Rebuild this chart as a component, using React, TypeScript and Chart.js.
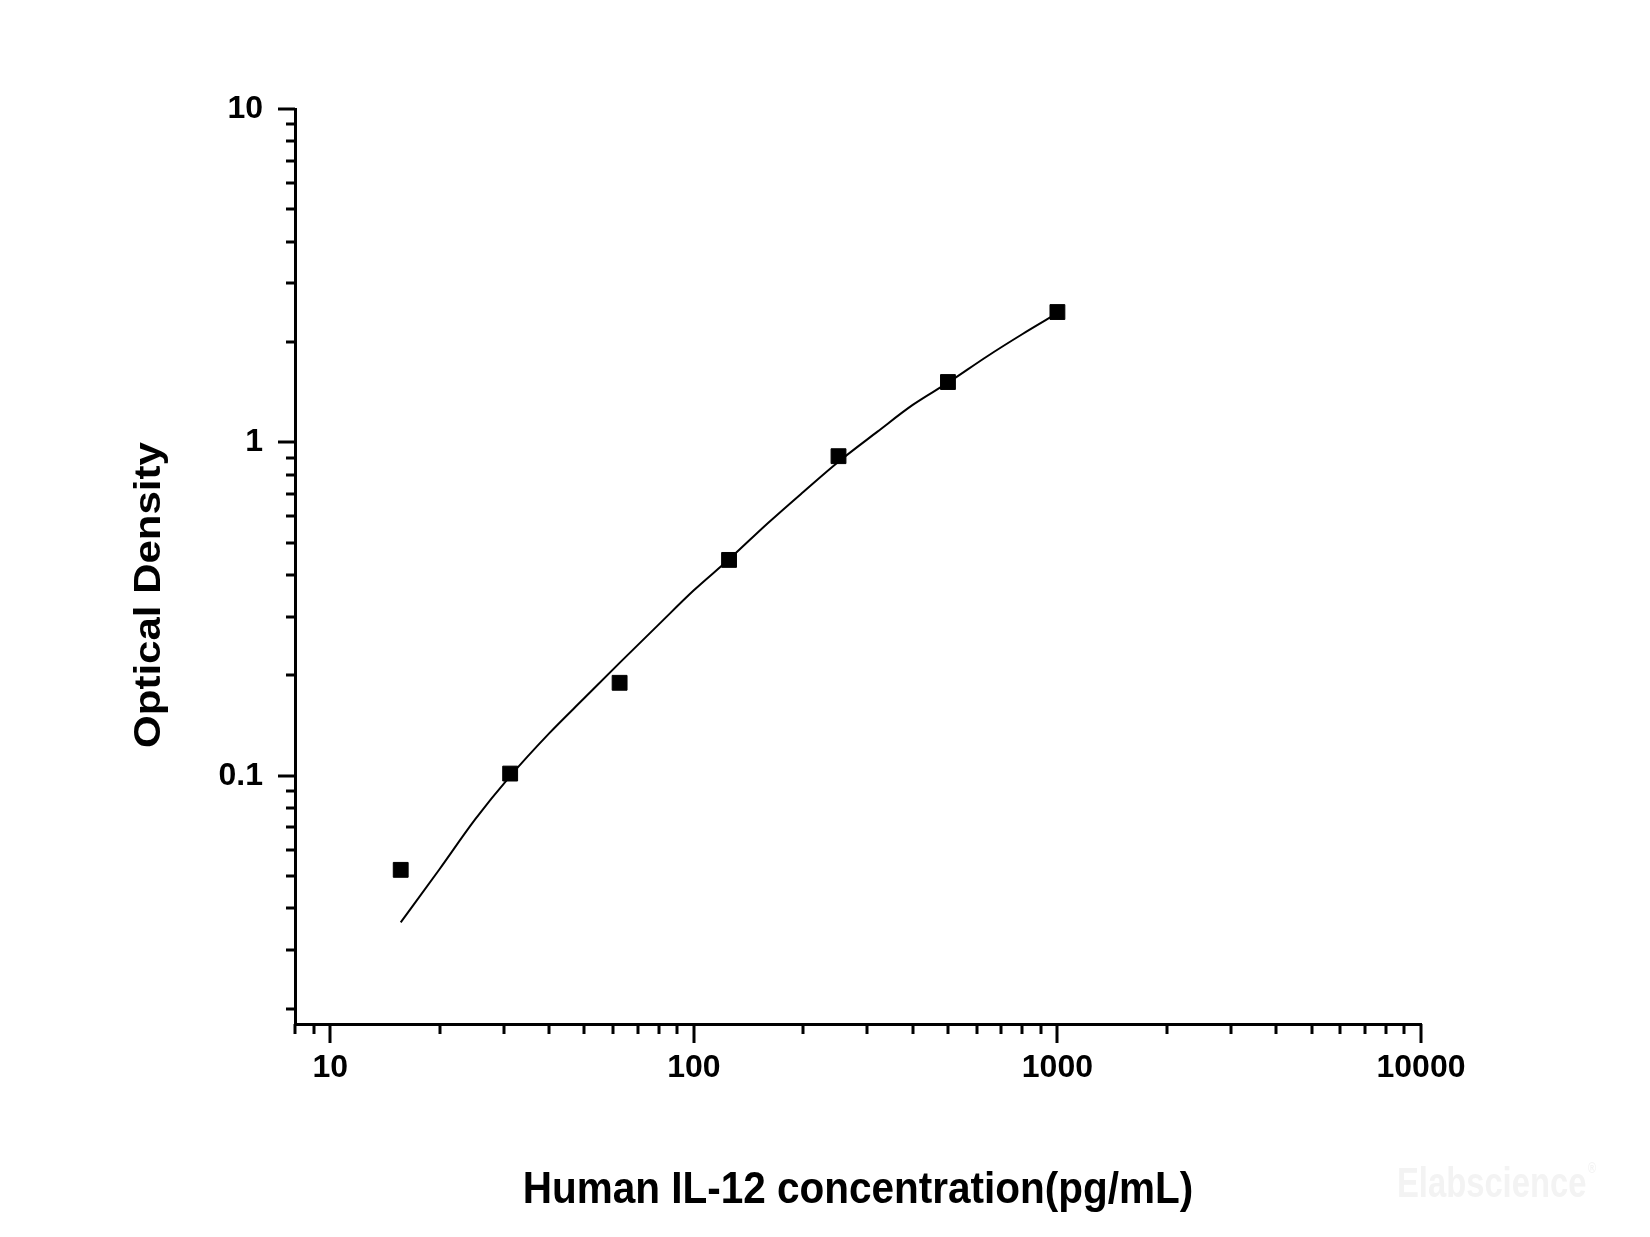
import React, { useEffect, useRef } from "react";
import { Chart, registerables } from "chart.js";

Chart.register(...registerables);

// ---- data ----
const stdConc: number[] = [15.625, 31.25, 62.5, 125, 250, 500, 1000];
const stdOD: number[] = [0.0522, 0.1015, 0.19, 0.444, 0.909, 1.517, 2.46];

const curveConc: number[] = [15.625, 20, 25, 31.25, 40, 50, 62.5, 80, 100, 125, 160, 200, 250, 320, 400, 500, 640, 800, 1000];
const curveOD: number[] = [0.0363, 0.0525, 0.0738, 0.0997, 0.134, 0.171, 0.218, 0.284, 0.36, 0.446, 0.573, 0.71, 0.875, 1.077, 1.295, 1.51, 1.81, 2.11, 2.44];

const xTickValues: number[] = [8, 9, 10, 20, 30, 40, 50, 60, 70, 80, 90, 100, 200, 300, 400, 500, 600, 700, 800, 900, 1000, 2000, 3000, 4000, 5000, 6000, 7000, 8000, 9000, 10000];
const xTickLabels: string[] = ["10", "100", "1000", "10000"];
const yTickValues: number[] = [0.02, 0.03, 0.04, 0.05, 0.06, 0.07, 0.08, 0.09, 0.1, 0.2, 0.3, 0.4, 0.5, 0.6, 0.7, 0.8, 0.9, 1, 2, 3, 4, 5, 6, 7, 8, 9, 10];
const yTickLabels: string[] = ["0.1", "1", "10"];

const xTitle = "Human IL-12 concentration(pg/mL)";
const yTitle = "Optical Density";
const watermark = "Elabscience";

const FONT = "'Liberation Sans', Arial, Helvetica, sans-serif";

const isMajor = (v: number) => Math.abs(Math.log10(v) - Math.round(Math.log10(v))) < 1e-9;

const decorPlugin = {
  id: "decor",
  afterDraw(chart: any) {
    const ctx = chart.ctx as CanvasRenderingContext2D;
    const xs = chart.scales.x;
    const ys = chart.scales.y;
    const area = chart.chartArea;
    ctx.save();
    ctx.strokeStyle = "#000";
    ctx.lineWidth = 3;
    ctx.lineCap = "butt";
    // y ticks
    for (const t of ys.ticks) {
      const py = Math.round(ys.getPixelForValue(t.value));
      const len = isMajor(t.value) ? 17 : 9;
      ctx.beginPath();
      ctx.moveTo(area.left, py);
      ctx.lineTo(area.left - len, py);
      ctx.stroke();
    }
    // x ticks
    for (const t of xs.ticks) {
      const px = Math.round(xs.getPixelForValue(t.value));
      const len = isMajor(t.value) ? 19 : 10;
      ctx.beginPath();
      ctx.moveTo(px, area.bottom);
      ctx.lineTo(px, area.bottom + len);
      ctx.stroke();
    }
    // x title
    ctx.fillStyle = "#000";
    ctx.font = `bold 45px ${FONT}`;
    ctx.textAlign = "center";
    ctx.textBaseline = "alphabetic";
    ctx.save();
    ctx.translate((area.left + area.right) / 2, 1203);
    ctx.scale(0.9, 1);
    ctx.fillText(xTitle, 0, 0);
    ctx.restore();
    // y title
    ctx.save();
    ctx.font = `bold 42px ${FONT}`;
    ctx.translate(160, 595);
    ctx.rotate(-Math.PI / 2);
    ctx.scale(1, 0.9);
    ctx.textAlign = "center";
    ctx.fillText(yTitle, 0, 0);
    ctx.restore();
    // watermark
    ctx.save();
    ctx.fillStyle = "#f3f3f3";
    ctx.font = `bold 42px ${FONT}`;
    ctx.textAlign = "left";
    ctx.translate(1397, 1197);
    ctx.scale(0.78, 1);
    ctx.fillText(watermark, 0, 0);
    const w = ctx.measureText(watermark).width;
    ctx.font = `bold 14px ${FONT}`;
    ctx.fillText("\u00AE", w + 2, -24);
    ctx.restore();
    ctx.restore();
  },
};

export default function App() {
  const ref = useRef<HTMLCanvasElement | null>(null);

  useEffect(() => {
    if (!ref.current) return;
    const chart = new Chart(ref.current, {
      type: "scatter",
      data: {
        datasets: [
          {
            label: "Standard",
            data: stdConc.map((x, i) => ({ x, y: stdOD[i] })),
            pointStyle: "rect",
            pointRadius: 10.5,
            pointHoverRadius: 10.5,
            backgroundColor: "#000",
            borderColor: "#000",
            borderWidth: 1,
            showLine: false,
            order: 1,
          },
          {
            label: "Fit",
            data: curveConc.map((x, i) => ({ x, y: curveOD[i] })),
            showLine: true,
            pointRadius: 0,
            borderColor: "#000",
            borderWidth: 2,
            cubicInterpolationMode: "monotone",
            fill: false,
            order: 2,
          },
        ],
      },
      options: {
        responsive: false,
        animation: false,
        devicePixelRatio: 1,
        layout: { padding: { top: 109, right: 229, left: 0, bottom: 0 } },
        plugins: {
          legend: { display: false },
          tooltip: { enabled: false },
        },
        scales: {
          x: {
            type: "logarithmic",
            position: "bottom",
            min: 8,
            max: 10000,
            afterBuildTicks: (scale: any) => {
              scale.ticks = xTickValues.map((v) => ({ value: v, major: isMajor(v) }));
            },
            afterFit: (scale: any) => {
              scale.height = 213;
            },
            grid: { display: false, drawTicks: false, tickLength: 0 },
            border: { display: true, color: "#000", width: 3 },
            ticks: {
              autoSkip: false,
              maxRotation: 0,
              minRotation: 0,
              padding: 25,
              color: "#000",
              font: { family: FONT, size: 32, weight: "bold" },
              callback: (v: any) => {
                const s = String(Number(v));
                return isMajor(Number(v)) && xTickLabels.includes(s) ? s : "";
              },
            },
            title: { display: false },
          },
          y: {
            type: "logarithmic",
            position: "left",
            min: 0.018,
            max: 10,
            afterBuildTicks: (scale: any) => {
              scale.ticks = yTickValues.map((v) => ({ value: v, major: isMajor(v) }));
            },
            afterFit: (scale: any) => {
              scale.width = 295;
            },
            grid: { display: false, drawTicks: false, tickLength: 0 },
            border: { display: true, color: "#000", width: 3 },
            ticks: {
              autoSkip: false,
              padding: 32,
              color: "#000",
              font: { family: FONT, size: 32, weight: "bold" },
              callback: (v: any) => {
                const s = String(Number(v));
                return isMajor(Number(v)) && yTickLabels.includes(s) ? s : "";
              },
            },
            title: { display: false },
          },
        },
      } as any,
      plugins: [decorPlugin],
    });
    return () => chart.destroy();
  }, []);

  return (
    <div style={{ position: "absolute", left: 0, top: 0, width: 1650, height: 1237, background: "#fff" }}>
      <canvas ref={ref} width={1650} height={1237} style={{ width: 1650, height: 1237, display: "block" }} />
    </div>
  );
}
